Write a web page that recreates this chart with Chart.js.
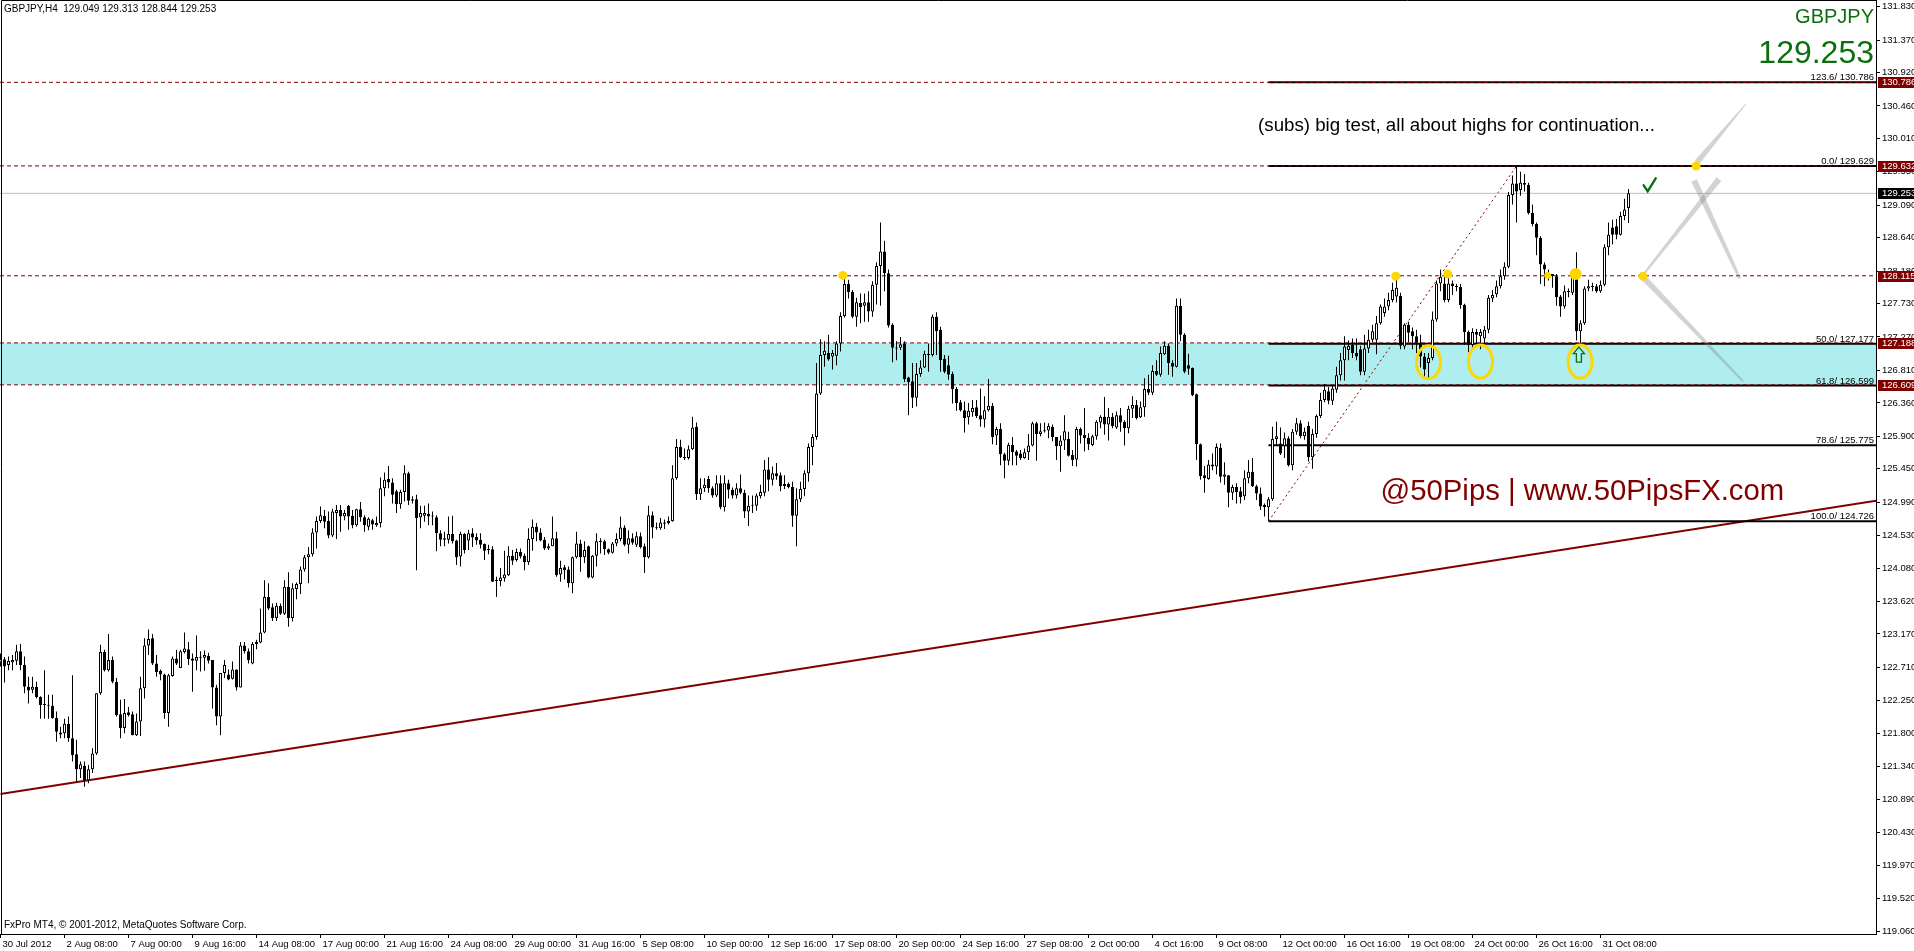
<!DOCTYPE html>
<html>
<head>
<meta charset="utf-8">
<title>GBPJPY,H4</title>
<script src="https://cdn.jsdelivr.net/npm/chart.js@4.4.1/dist/chart.umd.min.js"></script>
<style>
  html, body { margin: 0; padding: 0; background: #fff; overflow: hidden; }
  #wrap { width: 1914px; height: 951px; position: relative; }
</style>
</head>
<body>
<div id="wrap"><canvas id="chart" width="1914" height="951"></canvas></div>
<script>
// ---------------- DATA ----------------
const symbol = 'GBPJPY';
const timeframe = 'H4';
const copyright = 'FxPro MT4, \u00a9 2001-2012, MetaQuotes Software Corp.';

// time axis: one label every 16 H4 bars
const timeTickEvery = 16;
const timeTickLabels = ['30 Jul 2012', '2 Aug 08:00', '7 Aug 00:00', '9 Aug 16:00', '14 Aug 08:00', '17 Aug 00:00',
  '21 Aug 16:00', '24 Aug 08:00', '29 Aug 00:00', '31 Aug 16:00', '5 Sep 08:00', '10 Sep 00:00', '12 Sep 16:00',
  '17 Sep 08:00', '20 Sep 00:00', '24 Sep 16:00', '27 Sep 08:00', '2 Oct 00:00', '4 Oct 16:00', '9 Oct 08:00',
  '12 Oct 00:00', '16 Oct 16:00', '19 Oct 08:00', '24 Oct 00:00', '26 Oct 16:00', '31 Oct 08:00'];

const priceTicks = [131.830, 131.370, 130.920, 130.460, 130.010, 129.550, 129.090, 128.640, 128.180, 127.730,
  127.270, 126.810, 126.360, 125.900, 125.450, 124.990, 124.530, 124.080, 123.620, 123.170, 122.710, 122.250,
  121.800, 121.340, 120.890, 120.430, 119.970, 119.520, 119.060];

// visible window of the MT4 chart
const viewFirstBar = -0.125, viewLastBar = 468.875;
const viewLow = 119.027, viewHigh = 131.9225;

// H4 candles, 30 Jul 2012 -> 1 Nov 2012
const opens = [
  122.78,122.82,122.74,122.78,122.80,122.93,122.74,122.44,122.40,122.44,
  122.30,122.20,122.19,122.18,122.01,121.81,121.80,121.93,121.73,121.51,
  121.30,121.35,121.15,121.30,121.52,122.35,122.92,122.67,122.81,122.51,
  122.06,121.87,122.09,122.06,121.77,121.96,122.42,123.01,123.11,122.76,
  122.66,122.61,122.08,122.59,122.83,122.70,122.92,122.96,122.83,122.80,
  122.85,122.84,122.87,122.81,122.43,122.03,122.63,122.61,122.55,122.68,
  122.43,123.01,122.93,122.76,123.03,123.05,123.19,123.68,123.54,123.39,
  123.56,123.45,123.82,123.39,123.79,123.86,124.06,124.23,124.27,124.57,
  124.73,124.80,124.73,124.53,124.84,124.88,124.79,124.94,124.80,124.67,
  124.89,124.78,124.65,124.74,124.67,124.70,125.18,125.31,125.26,125.14,
  124.96,125.13,125.39,125.03,125.03,124.78,124.80,124.83,124.80,124.78,
  124.56,124.47,124.47,124.55,124.46,124.24,124.55,124.46,124.56,124.51,
  124.47,124.41,124.34,124.34,123.90,123.90,123.94,123.98,124.25,124.19,
  124.30,124.25,124.16,124.48,124.65,124.57,124.47,124.35,124.38,124.49,
  123.99,124.09,124.06,123.87,124.23,124.42,124.23,124.38,123.95,124.25,
  124.45,124.45,124.34,124.29,124.42,124.48,124.64,124.40,124.49,124.40,
  124.52,124.38,124.23,124.81,124.64,124.63,124.71,124.70,124.73,125.32,
  125.75,125.61,125.60,125.72,126.03,125.10,125.18,125.31,125.18,125.08,
  125.25,124.92,125.25,125.16,125.08,125.18,125.12,124.86,124.94,124.94,
  125.07,125.12,125.44,125.30,125.39,125.36,125.24,125.24,125.20,124.80,
  125.03,125.17,125.39,125.75,125.89,126.49,127.02,127.05,127.00,127.01,
  127.18,127.56,128.00,127.89,127.55,127.74,127.70,127.75,127.62,127.99,
  128.25,128.45,128.15,127.44,127.12,127.12,127.18,126.71,126.66,126.43,
  126.76,126.85,127.03,127.02,127.55,127.37,126.97,126.88,126.76,126.55,
  126.37,126.26,126.16,126.23,126.30,126.19,126.13,126.26,126.32,125.91,
  126.00,125.65,125.56,125.78,125.69,125.66,125.60,125.68,125.77,126.08,
  125.93,125.97,125.98,126.03,125.89,125.76,125.84,125.86,125.64,125.58,
  126.00,125.92,125.88,125.78,125.90,126.09,126.17,126.06,126.17,126.02,
  126.19,126.10,126.01,126.28,126.33,126.16,126.30,126.55,126.50,126.80,
  126.75,127.03,127.15,126.91,126.86,127.70,127.30,126.88,126.84,126.48,
  125.79,125.36,125.31,125.51,125.48,125.74,125.34,125.36,125.12,125.20,
  125.14,125.07,125.32,125.41,125.21,125.11,124.95,124.92,125.03,125.86,
  125.80,125.76,125.87,125.50,125.96,126.08,125.90,126.04,125.61,125.93,
  126.18,126.40,126.52,126.39,126.54,126.74,126.95,127.09,127.16,127.05,
  127.10,126.79,127.11,127.23,127.23,127.46,127.60,127.69,127.78,127.83,
  127.84,127.14,127.44,127.35,127.28,127.19,127.00,126.91,126.98,127.51,
  128.01,128.01,127.78,128.01,127.97,127.96,127.71,127.34,127.16,127.34,
  127.28,127.25,127.37,127.80,127.86,127.97,128.11,128.24,129.23,129.39,
  129.30,129.40,129.37,128.98,128.83,128.64,128.27,128.15,128.14,128.11,
  127.83,127.69,127.90,127.88,128.11,127.35,127.46,127.94,127.97,127.97,
  127.90,127.99,128.51,128.78,128.80,128.68,128.94,129.049];
const highs = [
  122.90,122.85,122.86,122.88,123.02,123.03,122.86,122.58,122.58,122.51,
  122.31,122.67,122.33,122.33,122.10,121.89,122.00,122.03,122.60,121.71,
  121.41,121.41,121.36,121.59,122.35,123.02,122.95,123.17,122.86,122.56,
  122.26,122.27,122.16,122.10,122.07,122.58,123.11,123.23,123.17,122.88,
  122.68,122.62,122.62,122.86,122.95,122.95,123.19,123.06,122.90,123.15,
  122.93,122.94,122.91,122.81,122.47,122.63,122.81,122.68,122.79,122.68,
  123.06,123.06,122.97,123.06,123.09,123.52,123.91,123.87,123.59,123.60,
  123.59,123.91,124.02,123.87,123.88,124.10,124.26,124.37,124.63,124.79,
  124.93,124.88,124.86,124.90,124.95,124.95,124.88,124.95,124.88,124.90,
  124.99,124.81,124.78,124.76,124.79,125.33,125.40,125.49,125.32,125.16,
  125.16,125.50,125.41,125.07,125.09,124.94,124.94,124.97,124.86,124.81,
  124.60,124.58,124.79,124.80,124.47,124.58,124.56,124.61,124.63,124.56,
  124.56,124.42,124.40,124.38,123.96,124.08,124.32,124.38,124.33,124.35,
  124.35,124.28,124.63,124.75,124.70,124.63,124.51,124.42,124.79,124.58,
  124.18,124.12,124.10,124.24,124.58,124.47,124.45,124.39,124.26,124.56,
  124.49,124.47,124.35,124.44,124.56,124.79,124.67,124.60,124.56,124.58,
  124.57,124.42,124.94,124.86,124.71,124.77,124.75,124.79,125.50,125.86,
  125.85,125.73,125.77,126.17,126.09,125.32,125.32,125.35,125.21,125.36,
  125.36,125.36,125.30,125.19,125.25,125.37,125.16,125.08,125.08,125.11,
  125.23,125.57,125.61,125.48,125.53,125.40,125.36,125.26,125.27,125.18,
  125.27,125.43,125.80,125.93,126.91,127.24,127.21,127.30,127.09,127.21,
  127.61,128.12,128.06,127.92,127.81,127.87,127.87,127.90,128.04,128.30,
  128.85,128.60,128.20,127.46,127.21,127.27,127.21,126.72,126.91,126.91,
  126.95,127.08,127.18,127.58,127.61,127.41,127.02,127.01,126.79,126.58,
  126.40,126.38,126.36,126.40,126.40,126.56,126.45,126.69,126.36,126.03,
  126.08,125.67,125.81,125.89,125.71,125.71,125.73,125.93,126.10,126.10,
  126.08,126.09,126.08,126.06,125.89,125.91,126.19,125.96,125.71,126.03,
  126.02,126.29,125.94,125.92,126.12,126.19,126.44,126.29,126.22,126.24,
  126.29,126.12,126.32,126.45,126.40,126.38,126.70,126.75,126.88,126.95,
  127.14,127.21,127.18,126.95,127.80,127.80,127.32,127.04,126.85,126.49,
  125.80,125.49,125.57,125.66,125.80,125.80,125.54,125.36,125.23,125.25,
  125.20,125.43,125.57,125.60,125.23,125.19,124.97,125.06,126.03,126.10,
  126.02,125.95,125.90,126.00,126.15,126.12,126.02,126.10,126.00,126.20,
  126.50,126.62,126.58,126.60,126.86,127.05,127.28,127.22,127.25,127.25,
  127.15,127.30,127.37,127.44,127.56,127.72,127.80,127.88,128.02,128.12,
  127.88,127.46,127.48,127.40,127.37,127.30,127.05,127.05,127.62,128.05,
  128.20,128.12,128.15,128.05,128.00,128.00,127.73,127.36,127.39,127.38,
  127.38,127.42,127.85,127.92,128.05,128.20,128.30,129.27,129.50,129.63,
  129.55,129.52,129.40,129.10,128.85,128.66,128.30,128.20,128.14,128.14,
  127.85,127.98,127.94,128.20,128.44,127.50,127.97,128.06,128.02,128.00,
  128.05,128.55,128.85,128.89,128.90,129.00,129.18,129.313];
const lows = [
  122.72,122.50,122.67,122.67,122.74,122.67,122.35,122.21,122.35,122.28,
  122.00,122.00,122.00,122.00,121.68,121.73,121.73,121.68,121.41,121.13,
  121.18,121.06,121.11,121.25,121.50,122.33,122.65,122.65,122.49,122.03,
  121.73,121.80,122.03,121.77,121.76,121.76,122.28,122.88,122.74,122.58,
  122.53,122.00,121.89,122.58,122.74,122.70,122.90,122.74,122.37,122.67,
  122.65,122.66,122.76,122.14,121.91,121.77,122.56,122.53,122.54,122.39,
  122.43,122.90,122.76,122.75,122.96,123.04,123.18,123.50,123.35,123.35,
  123.43,123.43,123.27,123.34,123.65,123.72,124.03,123.87,124.24,124.35,
  124.70,124.63,124.49,124.51,124.48,124.58,124.74,124.61,124.63,124.65,
  124.72,124.58,124.60,124.61,124.65,124.64,125.07,125.18,124.97,124.84,
  124.90,125.00,124.95,124.97,124.05,124.63,124.72,124.67,124.67,124.31,
  124.38,124.38,124.42,124.42,124.12,124.10,124.28,124.33,124.37,124.40,
  124.35,124.19,124.27,123.89,123.68,123.83,123.89,123.97,124.12,124.17,
  124.21,124.05,124.12,124.32,124.45,124.45,124.33,124.33,124.38,123.96,
  123.89,123.92,123.81,123.73,124.21,124.03,124.15,123.94,123.94,124.10,
  124.28,124.26,124.27,124.28,124.38,124.45,124.38,124.28,124.40,124.37,
  124.35,124.01,124.21,124.49,124.61,124.61,124.62,124.68,124.72,125.30,
  125.60,125.57,125.58,125.71,125.02,125.02,125.13,125.12,125.05,125.06,
  124.89,124.86,125.04,125.04,125.04,125.10,124.77,124.66,124.84,124.87,
  125.04,125.07,125.14,125.22,125.30,125.14,125.17,125.18,124.65,124.38,
  124.99,125.07,125.27,125.50,125.85,126.47,126.86,126.94,126.82,126.88,
  127.07,127.54,127.80,127.53,127.41,127.46,127.48,127.48,127.55,127.72,
  127.70,127.90,127.40,126.92,126.95,127.09,126.65,126.19,126.29,126.31,
  126.72,126.84,126.79,127.00,127.02,126.79,126.77,126.68,126.35,126.25,
  126.24,125.95,126.06,126.17,126.15,126.03,126.02,126.24,125.79,125.78,
  125.50,125.32,125.50,125.50,125.50,125.57,125.59,125.57,125.76,125.56,
  125.90,125.95,125.87,125.83,125.57,125.41,125.71,125.62,125.49,125.48,
  125.80,125.69,125.71,125.76,125.85,126.01,125.92,125.84,126.01,126.00,
  125.96,125.77,125.94,126.15,126.13,126.15,126.17,126.47,126.47,126.73,
  126.72,127.02,126.75,126.72,126.85,127.21,126.77,126.75,126.45,125.57,
  125.30,125.12,125.30,125.43,125.37,125.26,125.23,124.92,125.02,124.97,
  124.97,125.02,125.25,125.20,125.02,124.88,124.79,124.73,125.01,125.78,
  125.64,125.60,125.48,125.43,125.92,125.87,125.85,125.55,125.45,125.88,
  126.15,126.37,126.34,126.33,126.50,126.67,126.67,126.95,126.98,126.95,
  126.74,126.74,127.05,127.20,127.03,127.44,127.55,127.64,127.75,127.75,
  127.10,127.10,127.20,127.10,127.05,126.85,126.70,126.69,126.95,127.48,
  127.90,127.75,127.75,127.85,127.90,127.66,127.16,127.06,127.12,127.14,
  127.10,127.15,127.32,127.75,127.82,127.94,128.06,128.22,129.10,128.85,
  129.22,129.28,128.96,128.80,128.40,128.00,127.97,128.05,127.95,127.70,
  127.55,127.66,127.82,127.85,127.22,127.19,127.44,127.90,127.90,127.88,
  127.88,127.97,128.40,128.55,128.62,128.67,128.88,128.844];
const closes = [
  122.82,122.72,122.80,122.81,122.93,122.74,122.44,122.39,122.44,122.30,
  122.19,122.19,122.18,122.01,121.82,121.78,121.93,121.73,121.50,121.30,
  121.37,121.15,121.30,121.52,122.35,122.92,122.67,122.81,122.51,122.05,
  121.87,122.08,122.05,121.77,121.96,122.42,123.01,123.10,122.76,122.64,
  122.61,122.08,122.60,122.83,122.76,122.93,122.97,122.82,122.80,122.85,
  122.84,122.88,122.80,122.43,122.03,122.63,122.74,122.54,122.68,122.43,
  123.01,122.93,122.81,123.03,123.06,123.19,123.68,123.52,123.39,123.56,
  123.45,123.82,123.39,123.80,123.86,124.06,124.23,124.27,124.57,124.73,
  124.81,124.72,124.53,124.86,124.88,124.79,124.84,124.79,124.67,124.89,
  124.78,124.67,124.76,124.68,124.70,125.18,125.30,125.26,125.09,124.96,
  125.13,125.39,125.01,125.01,124.77,124.84,124.84,124.79,124.79,124.56,
  124.47,124.49,124.55,124.45,124.23,124.55,124.33,124.56,124.50,124.46,
  124.40,124.32,124.33,123.89,123.91,123.95,123.99,124.25,124.18,124.30,
  124.24,124.16,124.48,124.65,124.57,124.46,124.35,124.38,124.49,123.98,
  124.08,124.05,123.87,124.23,124.42,124.23,124.33,123.95,124.25,124.45,
  124.44,124.34,124.29,124.42,124.48,124.64,124.40,124.49,124.43,124.52,
  124.37,124.23,124.81,124.64,124.63,124.71,124.69,124.73,125.32,125.75,
  125.61,125.60,125.72,126.02,125.10,125.18,125.23,125.18,125.08,125.25,
  124.92,125.25,125.16,125.08,125.18,125.12,124.86,124.94,124.95,125.08,
  125.13,125.44,125.30,125.39,125.35,125.21,125.21,125.20,124.80,125.03,
  125.17,125.39,125.75,125.89,126.49,127.02,127.08,126.96,127.05,127.18,
  127.56,128.00,127.89,127.55,127.75,127.68,127.75,127.62,127.99,128.25,
  128.45,128.15,127.43,127.12,127.11,127.17,126.69,126.65,126.43,126.76,
  126.85,127.04,127.02,127.55,127.35,126.95,126.79,126.75,126.55,126.36,
  126.26,126.15,126.25,126.29,126.18,126.13,126.26,126.32,125.89,126.00,
  125.65,125.56,125.78,125.68,125.63,125.60,125.68,125.77,126.08,125.93,
  125.97,125.98,126.04,125.89,125.76,125.84,125.97,125.63,125.57,126.00,
  125.91,125.87,125.79,125.90,126.10,126.17,126.06,126.17,126.04,126.19,
  126.09,126.01,126.28,126.33,126.15,126.30,126.55,126.50,126.80,126.75,
  127.05,127.15,126.91,126.86,127.70,127.30,126.79,126.83,126.47,125.79,
  125.35,125.32,125.51,125.48,125.75,125.34,125.37,125.12,125.20,125.13,
  125.06,125.32,125.41,125.21,125.11,124.93,124.92,125.03,125.86,125.90,
  125.66,125.87,125.50,125.96,126.08,125.90,125.96,125.61,125.93,126.18,
  126.40,126.54,126.39,126.56,126.74,126.95,127.14,127.15,127.05,127.00,
  126.79,127.11,127.23,127.35,127.46,127.69,127.69,127.78,127.92,127.95,
  127.15,127.44,127.33,127.28,127.19,127.00,126.82,126.98,127.51,128.01,
  128.10,127.78,128.01,127.97,127.96,127.71,127.34,127.16,127.34,127.30,
  127.34,127.37,127.81,127.85,127.97,128.11,128.24,129.23,129.39,129.28,
  129.40,129.37,128.98,128.83,128.64,128.27,128.20,128.13,128.11,127.82,
  127.69,127.90,127.89,128.11,127.35,127.46,127.94,127.97,127.96,127.90,
  127.99,128.51,128.68,128.68,128.68,128.94,129.03,129.253];

// horizontal levels (red dashed) and the support zone
const markedLevels = [130.786, 129.632, 128.115, 127.188, 126.609];
const zoneTop = 127.188, zoneBottom = 126.609;

// fibonacci from the 9 Oct low to the 24 Oct high
const fibFromBar = 317, fibToBar = 379;
const fibRatios = [123.6, 0.0, 50.0, 61.8, 78.6, 100.0];
const fibPrices = [130.786, 129.629, 127.177, 126.599, 125.775, 124.726];

// long-term support trendline
const trendBars = [0, 468.875];
const trendPrices = [120.96, 125.01];

// annotations (bar index, price)
const noteText = '(subs) big test, all about highs for continuation...';
const noteAt = [314.4, 130.11];
const brandText = '@50Pips | www.50PipsFX.com';
const brandAt = [345.0, 125.02];
const circleBars = [357, 370, 394.9];
const circlePrices = [126.92, 126.93, 126.93];
const dotBars = [210.6, 348.8, 361.8, 386.8, 393.8, 410.6, 423.9];
const dotPrices = [128.12, 128.11, 128.14, 128.12, 128.14, 128.11, 129.63];
const arrowAt = [394.6, 127.13];
const checkAt = [412.3, 129.35];
// projected path: [barFrom, priceFrom, barTo, priceTo]
const projSegments = [
  [410.4, 128.11, 429.6, 129.45],
  [410.4, 128.11, 435.6, 126.66],
  [424.1, 129.68, 436.4, 130.49],
  [423.4, 129.43, 434.8, 128.08]
];

// ---------------- CHART ----------------
const FONT = '"Liberation Sans", Arial, sans-serif';
Chart.defaults.font.family = FONT;
Chart.defaults.color = '#000';

const maroon = '#800000';
const green = '#0c6e0c';
const gold = '#ffd700';

const wickData = highs.map((h, i) => ({x: i, y: [lows[i], h]}));
const bodyData = opens.map((o, i) => ({x: i, y: [o, closes[i]]}));
const bodyFill = opens.map((o, i) => closes[i] >= o ? '#ffffff' : '#000000');

function flatLine(fromBar, toBar, price, color, width, dash, order) {
  return {
    type: 'line',
    data: [{x: fromBar, y: price}, {x: toBar, y: price}],
    borderColor: color, borderWidth: width, borderDash: dash,
    pointRadius: 0, fill: false, order: order
  };
}

const datasets = [
  {
    label: 'body', data: bodyData, backgroundColor: bodyFill, borderColor: '#000',
    borderWidth: 1, borderSkipped: false, barThickness: 3, minBarLength: 1,
    grouped: false, inflateAmount: 0, order: 0
  },
  {
    label: 'wick', data: wickData, backgroundColor: '#000', borderWidth: 0,
    barThickness: 1, grouped: false, inflateAmount: 0, order: 1
  }
];

markedLevels.forEach(p => datasets.push(flatLine(viewFirstBar, viewLastBar, p, maroon, 1, [4, 3], 3)));
fibPrices.forEach(p => datasets.push(flatLine(fibFromBar, viewLastBar, p, '#000', 2, [], 4)));
datasets.push(flatLine(viewFirstBar, viewLastBar, closes[closes.length - 1], '#c0c0c0', 1, [], 5));
datasets.push({
  type: 'line', data: [{x: fibFromBar, y: fibPrices[5]}, {x: fibToBar, y: fibPrices[1]}],
  borderColor: maroon, borderWidth: 1, borderDash: [2, 3], pointRadius: 0, fill: false, order: 5
});
datasets.push({
  type: 'line', data: trendBars.map((b, i) => ({x: b, y: trendPrices[i]})),
  borderColor: maroon, borderWidth: 2, pointRadius: 0, fill: false, order: 5
});

function wedge(ctx, x1, y1, x2, y2, w1, w2) {
  const dx = x2 - x1, dy = y2 - y1, len = Math.hypot(dx, dy);
  const nx = -dy / len, ny = dx / len;
  ctx.beginPath();
  ctx.moveTo(x1 + nx * w1 / 2, y1 + ny * w1 / 2);
  ctx.lineTo(x2 + nx * w2 / 2, y2 + ny * w2 / 2);
  ctx.lineTo(x2 - nx * w2 / 2, y2 - ny * w2 / 2);
  ctx.lineTo(x1 - nx * w1 / 2, y1 - ny * w1 / 2);
  ctx.closePath();
  ctx.fill();
}

const projWidths = [[2, 6], [6, 2], [6, 1], [6, 3]];
const dotSizes = [4.5, 4.5, 4.5, 3.5, 6, 4.5, 4.5];

const mt4Objects = {
  id: 'mt4Objects',
  beforeDatasetsDraw(chart) {
    const {ctx, chartArea: a, scales: {y}} = chart;
    const t = y.getPixelForValue(zoneTop), b = y.getPixelForValue(zoneBottom);
    ctx.save();
    ctx.fillStyle = '#afeeee';
    ctx.fillRect(a.left, t, a.right - a.left, b - t);
    ctx.restore();
  },
  afterDatasetsDraw(chart) {
    const {ctx, chartArea: a, scales: {x, y}} = chart;
    ctx.save();
    ctx.beginPath();
    ctx.rect(a.left, a.top, a.right - a.left, a.bottom - a.top);
    ctx.clip();

    // projected zigzag
    ctx.fillStyle = 'rgba(120,120,120,0.33)';
    projSegments.forEach((s, k) => {
      wedge(ctx, x.getPixelForValue(s[0]), y.getPixelForValue(s[1]),
        x.getPixelForValue(s[2]), y.getPixelForValue(s[3]), projWidths[k][0], projWidths[k][1]);
    });

    // fibo labels
    ctx.font = '9.5px ' + FONT;
    ctx.fillStyle = '#000';
    ctx.textAlign = 'right';
    ctx.textBaseline = 'alphabetic';
    fibPrices.forEach((p, i) => {
      ctx.fillText(fibRatios[i].toFixed(1) + '/ ' + p.toFixed(3), a.right - 2, y.getPixelForValue(p) - 2);
    });

    // text notes
    ctx.textAlign = 'left';
    ctx.font = '18.7px ' + FONT;
    ctx.fillStyle = '#000';
    ctx.fillText(noteText, x.getPixelForValue(noteAt[0]), y.getPixelForValue(noteAt[1]));
    ctx.font = '29.3px ' + FONT;
    ctx.fillStyle = maroon;
    ctx.fillText(brandText, x.getPixelForValue(brandAt[0]), y.getPixelForValue(brandAt[1]));

    // ellipses
    ctx.strokeStyle = gold;
    ctx.lineWidth = 3;
    circleBars.forEach((b, i) => {
      ctx.beginPath();
      ctx.ellipse(x.getPixelForValue(b), y.getPixelForValue(circlePrices[i]), 12, 16.5, 0, 0, Math.PI * 2);
      ctx.stroke();
    });

    // dots
    ctx.fillStyle = gold;
    dotBars.forEach((b, i) => {
      ctx.beginPath();
      ctx.arc(x.getPixelForValue(b), y.getPixelForValue(dotPrices[i]), dotSizes[i], 0, Math.PI * 2);
      ctx.fill();
    });

    // hollow up arrow
    const ax = x.getPixelForValue(arrowAt[0]), ay = y.getPixelForValue(arrowAt[1]);
    ctx.strokeStyle = green;
    ctx.lineWidth = 1.3;
    ctx.beginPath();
    ctx.moveTo(ax, ay);
    ctx.lineTo(ax + 5.5, ay + 6.5);
    ctx.lineTo(ax + 2.5, ay + 6.5);
    ctx.lineTo(ax + 2.5, ay + 15);
    ctx.lineTo(ax - 2.5, ay + 15);
    ctx.lineTo(ax - 2.5, ay + 6.5);
    ctx.lineTo(ax - 5.5, ay + 6.5);
    ctx.closePath();
    ctx.stroke();

    // check mark
    const cx = x.getPixelForValue(checkAt[0]), cy = y.getPixelForValue(checkAt[1]);
    ctx.lineWidth = 2.4;
    ctx.lineCap = 'round';
    ctx.beginPath();
    ctx.moveTo(cx - 6, cy - 1);
    ctx.lineTo(cx - 2, cy + 5);
    ctx.lineTo(cx + 6, cy - 8);
    ctx.stroke();

    // symbol / last price label (top right corner)
    ctx.fillStyle = green;
    ctx.textAlign = 'right';
    ctx.font = '20px ' + FONT;
    ctx.fillText(symbol, a.right - 2, a.top + 23);
    ctx.font = '32px ' + FONT;
    ctx.fillText(closes[closes.length - 1].toFixed(3), a.right - 2, a.top + 63);
    ctx.restore();
  },
  afterDraw(chart) {
    const {ctx, chartArea: a, scales: {y}} = chart;
    ctx.save();
    // price tags on the axis
    const tag = (price, bg) => {
      const py = y.getPixelForValue(price);
      ctx.fillStyle = bg;
      ctx.fillRect(a.right + 2, Math.round(py) - 5, chart.width - a.right - 2, 11);
      ctx.fillStyle = '#fff';
      ctx.font = '9.5px ' + FONT;
      ctx.textAlign = 'left';
      ctx.textBaseline = 'middle';
      ctx.fillText(price.toFixed(3), a.right + 6, py + 0.5);
    };
    markedLevels.forEach(p => tag(p, maroon));
    tag(closes[closes.length - 1], '#000');

    // frame
    ctx.strokeStyle = '#000';
    ctx.lineWidth = 1;
    ctx.beginPath();
    ctx.moveTo(1.5, a.bottom);
    ctx.lineTo(1.5, 0.5);
    ctx.lineTo(a.right, 0.5);
    ctx.stroke();

    // header and footer
    ctx.fillStyle = '#000';
    ctx.font = '10px ' + FONT;
    ctx.textAlign = 'left';
    ctx.textBaseline = 'alphabetic';
    const last = opens.length - 1;
    ctx.fillText(symbol + ',' + timeframe + '  ' + [opens[last], highs[last], lows[last], closes[last]]
      .map(v => v.toFixed(3)).join(' '), 4, 12);
    ctx.fillText(copyright, 4, a.bottom - 6);
    ctx.restore();
  }
};

new Chart(document.getElementById('chart'), {
  type: 'bar',
  data: {datasets: datasets},
  options: {
    responsive: false,
    maintainAspectRatio: false,
    devicePixelRatio: 1,
    animation: false,
    events: [],
    layout: {padding: 0, autoPadding: false},
    plugins: {legend: {display: false}, tooltip: {enabled: false}},
    scales: {
      x: {
        type: 'linear',
        position: 'bottom',
        min: viewFirstBar,
        max: viewLastBar,
        offset: false,
        grid: {offset: false, drawOnChartArea: false, drawTicks: true, tickLength: 4, color: '#000'},
        border: {display: true, color: '#000'},
        ticks: {
          autoSkip: false, maxRotation: 0, align: 'start', labelOffset: 2, padding: 1,
          font: {size: 9.5}, color: '#000',
          callback: (v, i) => timeTickLabels[i]
        },
        afterBuildTicks: (scale) => {
          scale.ticks = timeTickLabels.map((l, i) => ({value: i * timeTickEvery}));
        },
        afterFit: (scale) => {
          scale.height = 17;
          scale.paddingLeft = 0; scale.paddingRight = 0;
        }
      },
      y: {
        type: 'linear',
        position: 'right',
        min: viewLow,
        max: viewHigh,
        beginAtZero: false,
        grid: {drawOnChartArea: false, drawTicks: true, tickLength: 4, color: '#000'},
        border: {display: true, color: '#000'},
        ticks: {
          padding: 2, font: {size: 9.5}, color: '#000',
          callback: (v) => Number(v).toFixed(3)
        },
        afterBuildTicks: (scale) => {
          scale.ticks = priceTicks.map(v => ({value: v}));
        },
        afterFit: (scale) => {
          scale.width = 38;
          scale.paddingTop = 0; scale.paddingBottom = 0;
        }
      }
    }
  },
  plugins: [mt4Objects]
});
</script>
</body>
</html>
